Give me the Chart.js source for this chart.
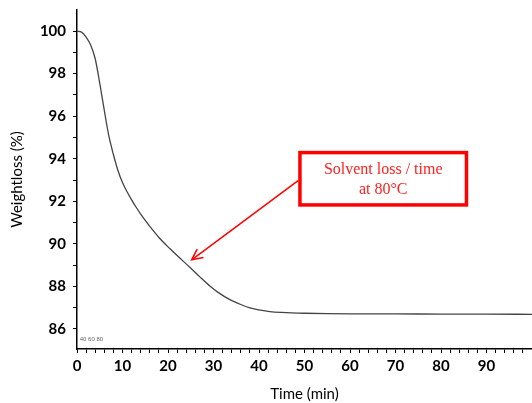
<!DOCTYPE html>
<html>
<head>
<meta charset="utf-8">
<script src="https://cdn.jsdelivr.net/npm/chart.js@4"></script>
<style>
  html, body { margin: 0; padding: 0; background: #fff; }
  #wrap { width: 532px; height: 403px; position: relative; }
</style>
</head>
<body>
<div id="wrap"><canvas id="c" width="532" height="403"></canvas></div>
<script>
// ---- data ----
const timeMin = [0, 1, 2, 3, 4, 5, 6, 7, 8, 9, 10, 11, 12, 13, 14, 15, 16, 18, 20.4, 22, 24.8, 27, 29.2, 31, 33.6, 36, 38, 40, 42.4, 45, 50, 55, 60, 70, 80, 90, 100];
const weightPct = [100, 99.95, 99.72, 99.35, 98.7, 97.55, 96.27, 95.07, 94.2, 93.45, 92.88, 92.45, 92.07, 91.72, 91.4, 91.1, 90.82, 90.3, 89.78, 89.45, 88.9, 88.45, 88.02, 87.72, 87.38, 87.15, 86.99, 86.9, 86.82, 86.78, 86.74, 86.72, 86.71, 86.71, 86.7, 86.7, 86.69];
const xTickValues = [0,2,4,6,8,10,12,14,16,18,20,22,24,26,28,30,32,34,36,38,40,42,44,46,48,50,52,54,56,58,60,62,64,66,68,70,72,74,76,78,80,82,84,86,88,90,92,94,96,98];
const yTickValues = [86,87,88,89,90,91,92,93,94,95,96,97,98,99,100];
const annotationLines = ["Solvent loss / time", "at 80°C"];
const annotationBox = [49.0, 94.29, 85.6, 91.83];   // [x1, y1, x2, y2] in data units
const arrowFrom = [48.6, 92.97];
const arrowTo = [25.2, 89.25];
const smallLabel = "40 60 80";
const smallLabelAt = [0.6, 85.5];

const points = timeMin.map((t, i) => ({ x: t, y: weightPct[i] }));

const annotationPlugin = {
  id: 'calloutBox',
  afterDatasetsDraw(chart) {
    const ctx = chart.ctx;
    const xs = chart.scales.x, ys = chart.scales.y;
    ctx.save();
    // small label near origin
    ctx.fillStyle = '#666';
    ctx.font = '6px "Liberation Sans"';
    ctx.textAlign = 'left';
    ctx.textBaseline = 'middle';
    ctx.fillText(smallLabel, xs.getPixelForValue(smallLabelAt[0]), ys.getPixelForValue(smallLabelAt[1]));

    // box
    const bx1 = xs.getPixelForValue(annotationBox[0]);
    const by1 = ys.getPixelForValue(annotationBox[1]);
    const bx2 = xs.getPixelForValue(annotationBox[2]);
    const by2 = ys.getPixelForValue(annotationBox[3]);
    ctx.fillStyle = '#ffffff';
    ctx.fillRect(bx1, by1, bx2 - bx1, by2 - by1);
    ctx.strokeStyle = '#ff0000';
    ctx.lineWidth = 3.5;
    ctx.strokeRect(bx1, by1, bx2 - bx1, by2 - by1);
    // text
    ctx.fillStyle = '#ff2020';
    ctx.font = '16px "Liberation Serif"';
    ctx.textAlign = 'center';
    ctx.textBaseline = 'middle';
    const cx = (bx1 + bx2) / 2;
    const cy = (by1 + by2) / 2;
    ctx.fillText(annotationLines[0], cx, cy - 9);
    ctx.fillText(annotationLines[1], cx, cy + 11);

    // arrow
    const ax1 = xs.getPixelForValue(arrowFrom[0]);
    const ay1 = ys.getPixelForValue(arrowFrom[1]);
    const ax2 = xs.getPixelForValue(arrowTo[0]);
    const ay2 = ys.getPixelForValue(arrowTo[1]);
    ctx.strokeStyle = '#ff0000';
    ctx.lineWidth = 1.5;
    ctx.beginPath();
    ctx.moveTo(ax1, ay1);
    ctx.lineTo(ax2, ay2);
    ctx.stroke();
    const ang = Math.atan2(ay2 - ay1, ax2 - ax1);
    const L = 12, spread = 0.45;
    ctx.beginPath();
    ctx.moveTo(ax2 - L * Math.cos(ang - spread), ay2 - L * Math.sin(ang - spread));
    ctx.lineTo(ax2, ay2);
    ctx.lineTo(ax2 - L * Math.cos(ang + spread), ay2 - L * Math.sin(ang + spread));
    ctx.stroke();
    ctx.restore();
  }
};

new Chart(document.getElementById('c'), {
  type: 'line',
  data: {
    datasets: [{
      data: points,
      borderColor: '#444444',
      borderWidth: 1.3,
      pointRadius: 0,
      fill: false,
      cubicInterpolationMode: 'monotone'
    }]
  },
  options: {
    responsive: false,
    animation: false,
    layout: { padding: { top: 10, right: 0, left: 0, bottom: 0 } },
    plugins: { legend: { display: false }, tooltip: { enabled: false } },
    scales: {
      x: {
        type: 'linear',
        min: 0,
        max: 100,
        afterBuildTicks: (s) => { s.ticks = xTickValues.map(v => ({ value: v })); },
        afterFit: (s) => { s.height = 54; s.paddingLeft = 0; s.paddingRight = 0; },
        border: { color: '#000', width: 1.5 },
        grid: { drawOnChartArea: false, tickLength: 4, color: '#000', tickWidth: 1 },
        ticks: {
          autoSkip: false,
          maxRotation: 0,
          padding: 4,
          color: '#000',
          font: { family: 'Lato', size: 15, weight: 'bold' },
          callback: (v) => (v % 10 === 0 ? String(v) : '')
        },
        title: {
          display: true,
          text: 'Time (min)',
          color: '#000',
          font: { family: 'Lato', size: 15 },
          padding: { top: 0, bottom: 0 }
        }
      },
      y: {
        type: 'linear',
        min: 85.06,
        max: 100.99,
        afterBuildTicks: (s) => { s.ticks = yTickValues.map(v => ({ value: v })); },
        afterFit: (s) => { s.width = 77; s.paddingTop = 0; s.paddingBottom = 0; },
        border: { color: '#000', width: 1.5 },
        grid: { drawOnChartArea: false, tickLength: 4, color: '#000', tickWidth: 1 },
        ticks: {
          autoSkip: false,
          padding: 7,
          color: '#000',
          font: { family: 'Lato', size: 15, weight: 'bold' },
          callback: (v) => (v % 2 === 0 ? String(v) : '')
        },
        title: {
          display: true,
          text: 'Weightloss (%)',
          color: '#000',
          font: { family: 'Lato', size: 15 },
          padding: { top: 8, bottom: 0 }
        }
      }
    }
  },
  plugins: [annotationPlugin]
});
</script>
</body>
</html>
